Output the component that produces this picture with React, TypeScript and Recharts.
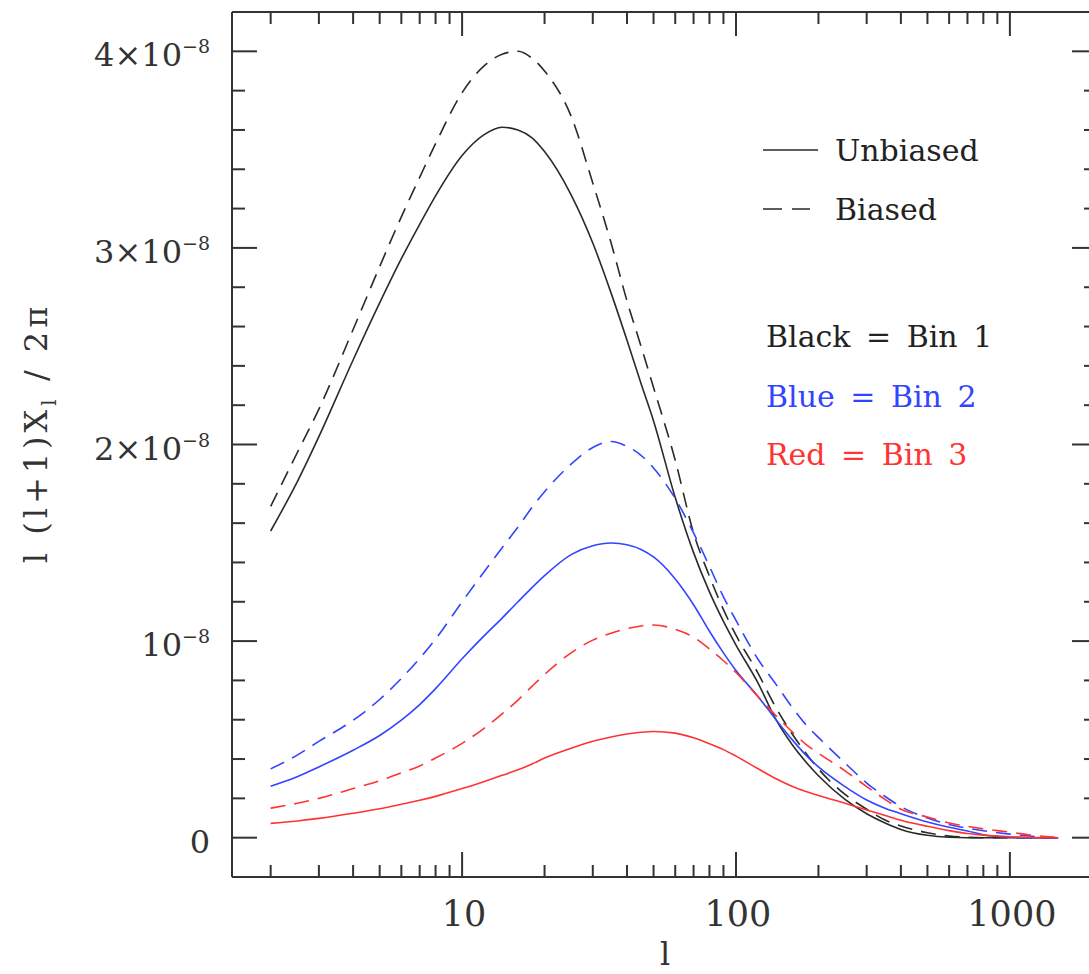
import React from "react";
import { LineChart, Line, XAxis, YAxis, Customized } from "recharts";

// multipole l
const ells = [
  2, 2.5, 3, 4, 5, 6, 7, 8, 10, 12, 14, 16, 18, 20, 25, 30, 35, 40, 45, 50, 60, 70, 80, 90, 100,
  120, 140, 160, 180, 200, 250, 300, 350, 400, 500, 600, 700, 800, 1000, 1200, 1500,
];

// values in units of 1e-8
const bin1Unbiased = [
  1.56, 1.81, 2.04, 2.43, 2.72, 2.945, 3.12, 3.265, 3.47, 3.575, 3.614, 3.6, 3.56, 3.49, 3.27, 3.025,
  2.77, 2.53, 2.31, 2.12, 1.73, 1.45, 1.25, 1.1, 0.98, 0.79, 0.6, 0.475, 0.385, 0.315, 0.195, 0.122,
  0.075, 0.042, 0.012, 0.002, 0, 0, 0, 0, 0,
];
const bin1Biased = [
  1.685, 1.958, 2.18, 2.585, 2.905, 3.158, 3.359, 3.53, 3.79, 3.925, 3.985, 4.0, 3.965, 3.9, 3.67,
  3.33, 3.025, 2.73, 2.5, 2.29, 1.92, 1.55, 1.33, 1.16, 1.03, 0.84, 0.66, 0.53, 0.43, 0.35, 0.22,
  0.145, 0.09, 0.06, 0.025, 0.008, 0.002, 0, 0, 0, 0,
];
const bin2Unbiased = [
  0.262, 0.31, 0.36, 0.445, 0.52, 0.598, 0.677, 0.758, 0.91, 1.025, 1.117, 1.2, 1.272, 1.333, 1.44,
  1.485, 1.499, 1.49, 1.466, 1.428, 1.316, 1.185, 1.05, 0.94, 0.85, 0.72, 0.6, 0.5, 0.42, 0.36, 0.26,
  0.192, 0.15, 0.122, 0.08, 0.053, 0.034, 0.015, 0.003, 0, 0,
];
const bin2Biased = [
  0.35, 0.42, 0.49, 0.597, 0.703, 0.81, 0.912, 1.01, 1.2, 1.35, 1.475, 1.58, 1.68, 1.76, 1.9, 1.985,
  2.015, 1.99, 1.945, 1.88, 1.725, 1.55, 1.38, 1.225, 1.105, 0.91, 0.78, 0.665, 0.575, 0.51, 0.38,
  0.278, 0.21, 0.158, 0.1, 0.067, 0.048, 0.035, 0.018, 0.007, 0,
];
const bin3Unbiased = [
  0.073, 0.085, 0.098, 0.124, 0.147, 0.17, 0.19, 0.21, 0.25, 0.285, 0.317, 0.345, 0.375, 0.405,
  0.455, 0.49, 0.512, 0.527, 0.536, 0.54, 0.532, 0.508, 0.478, 0.448, 0.415, 0.352, 0.3, 0.262,
  0.235, 0.215, 0.175, 0.141, 0.113, 0.089, 0.058, 0.036, 0.021, 0.013, 0.005, 0.001, 0,
];
const bin3Biased = [
  0.15, 0.175, 0.2, 0.25, 0.29, 0.33, 0.365, 0.405, 0.48, 0.555, 0.63, 0.7, 0.77, 0.83, 0.94, 1.005,
  1.04, 1.063, 1.077, 1.082, 1.06, 1.02, 0.96, 0.9, 0.84, 0.72, 0.62, 0.54, 0.475, 0.43, 0.34, 0.26,
  0.195, 0.145, 0.105, 0.075, 0.058, 0.045, 0.028, 0.013, 0,
];

const xTicks = [
  2, 3, 4, 5, 6, 7, 8, 9, 10, 20, 30, 40, 50, 60, 70, 80, 90, 100, 200, 300, 400, 500, 600, 700,
  800, 900, 1000, 2000,
];
const xMajor = [10, 100, 1000];
const yTicks = [
  0, 0.2, 0.4, 0.6, 0.8, 1, 1.2, 1.4, 1.6, 1.8, 2, 2.2, 2.4, 2.6, 2.8, 3, 3.2, 3.4, 3.6, 3.8, 4,
];

const data = ells.map((l, i) => ({
  l,
  b1u: bin1Unbiased[i],
  b1b: bin1Biased[i],
  b2u: bin2Unbiased[i],
  b2b: bin2Biased[i],
  b3u: bin3Unbiased[i],
  b3b: bin3Biased[i],
}));

const INK = "#333";
const BLACK = "#2a2a2a";
const BLUE = "#3344ff";
const RED = "#ff3333";
const FONT = "DejaVu Serif";

const isMajorY = (v: number) => Math.abs(v - Math.round(v)) < 1e-6;

const BottomTick = (p: any) => {
  const v = p.payload.value;
  const major = xMajor.includes(v);
  return (
    <g>
      <line x1={p.x} x2={p.x} y1={p.y} y2={p.y - (major ? 25 : 12)} stroke={INK} strokeWidth={2} />
      {major && (
        <text x={p.x + 2} y={p.y + 49} textAnchor="middle" fontFamily={FONT} fontSize={35} fill={INK}>
          {v}
        </text>
      )}
    </g>
  );
};

const TopTick = (p: any) => {
  const major = xMajor.includes(p.payload.value);
  return <line x1={p.x} x2={p.x} y1={p.y} y2={p.y + (major ? 24 : 12)} stroke={INK} strokeWidth={2} />;
};

const LeftTick = (p: any) => {
  const v = p.payload.value;
  const major = isMajorY(v);
  const n = Math.round(v);
  return (
    <g>
      <line x1={p.x} x2={p.x + (major ? 25 : 13)} y1={p.y} y2={p.y} stroke={INK} strokeWidth={2} />
      {major && (
        <text x={p.x - 22} y={p.y + 15} textAnchor="end" fontFamily={FONT} fontSize={32} fill={INK}>
          {n === 0 ? "0" : (
            <>
              {n === 1 ? "" : `${n}×`}10
              <tspan dy={-13} fontSize={19}>−8</tspan>
            </>
          )}
        </text>
      )}
    </g>
  );
};

const RightTick = (p: any) => {
  const major = isMajorY(p.payload.value);
  return <line x1={p.x} x2={p.x - (major ? 25 : 13)} y1={p.y} y2={p.y} stroke={INK} strokeWidth={2} />;
};

const Annotations = () => (
  <g fontFamily={FONT} fontSize={30}>
    <line x1={763} x2={818} y1={150} y2={150} stroke={BLACK} strokeWidth={1.6} />
    <text x={835} y={161} fill="#222">Unbiased</text>
    <line x1={763} x2={810} y1={209} y2={209} stroke={BLACK} strokeWidth={1.6} strokeDasharray="19 10" />
    <text x={835} y={220} fill="#222">Biased</text>
    <text x={766} y={347} fill="#222" wordSpacing={6}>Black = Bin 1</text>
    <text x={766} y={407} fill={BLUE} wordSpacing={6}>Blue = Bin 2</text>
    <text x={766} y={465} fill={RED} wordSpacing={6}>Red = Bin 3</text>
    <text transform="translate(47,433) rotate(-90)" textAnchor="middle" fontSize={32} letterSpacing={4} fill={INK}>
      l (l+1)X
      <tspan dy={9} fontSize={20}>l</tspan>
      <tspan dy={-9}>  /  2π</tspan>
    </text>
    <text x={665} y={965} textAnchor="middle" fontSize={32} fill={INK}>l</text>
  </g>
);

export default function App() {
  return (
    <div style={{ position: "absolute", left: 0, top: 0, width: 1089, height: 974, overflow: "hidden", background: "#fff" }}>
      <LineChart width={1110} height={974} data={data} margin={{ top: 0, right: 0, bottom: 0, left: 0 }}>
        <XAxis
          dataKey="l"
          type="number"
          scale="log"
          domain={[1.445, 2080]}
          allowDataOverflow
          ticks={xTicks}
          interval={0}
          tick={<BottomTick />}
          tickLine={false}
          tickSize={0}
          tickMargin={0}
          height={97}
          axisLine={{ stroke: INK, strokeWidth: 2 }}
        />
        <XAxis
          xAxisId="top"
          orientation="top"
          dataKey="l"
          type="number"
          scale="log"
          domain={[1.445, 2080]}
          allowDataOverflow
          ticks={xTicks}
          interval={0}
          tick={<TopTick />}
          tickLine={false}
          tickSize={0}
          tickMargin={0}
          height={12}
          axisLine={{ stroke: INK, strokeWidth: 2 }}
        />
        <YAxis
          type="number"
          domain={[-0.2, 4.2]}
          allowDataOverflow
          ticks={yTicks}
          interval={0}
          tick={<LeftTick />}
          tickLine={false}
          tickSize={0}
          tickMargin={0}
          width={232}
          axisLine={{ stroke: INK, strokeWidth: 2 }}
        />
        <YAxis
          yAxisId="right"
          orientation="right"
          type="number"
          domain={[-0.2, 4.2]}
          allowDataOverflow
          ticks={yTicks}
          interval={0}
          tick={<RightTick />}
          tickLine={false}
          tickSize={0}
          tickMargin={0}
          width={13}
          axisLine={{ stroke: INK, strokeWidth: 2 }}
        />
        <Line type="monotone" dataKey="b1u" stroke={BLACK} strokeWidth={1.6} dot={false} isAnimationActive={false} />
        <Line type="monotone" dataKey="b1b" stroke={BLACK} strokeWidth={1.6} strokeDasharray="15 9" dot={false} isAnimationActive={false} />
        <Line type="monotone" dataKey="b2u" stroke={BLUE} strokeWidth={1.6} dot={false} isAnimationActive={false} />
        <Line type="monotone" dataKey="b2b" stroke={BLUE} strokeWidth={1.6} strokeDasharray="15 9" dot={false} isAnimationActive={false} />
        <Line type="monotone" dataKey="b3u" stroke={RED} strokeWidth={1.6} dot={false} isAnimationActive={false} />
        <Line type="monotone" dataKey="b3b" stroke={RED} strokeWidth={1.6} strokeDasharray="15 9" dot={false} isAnimationActive={false} />
        <Customized component={<Annotations />} />
      </LineChart>
    </div>
  );
}
